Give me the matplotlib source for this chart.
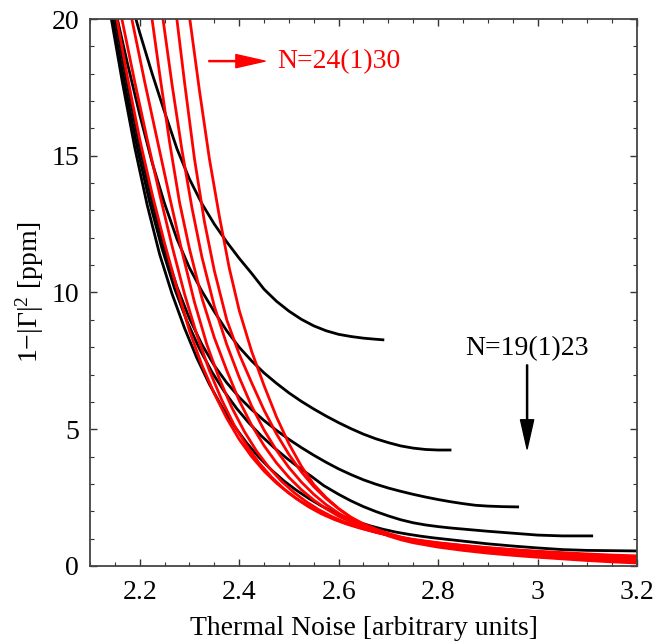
import matplotlib
matplotlib.use('Agg')
import matplotlib.pyplot as plt
from matplotlib.ticker import MultipleLocator

plt.rcParams['font.family'] = ['Liberation Serif', 'DejaVu Serif']
plt.rcParams['mathtext.fontset'] = 'custom'
plt.rcParams['mathtext.rm'] = 'Liberation Serif'
plt.rcParams['mathtext.it'] = 'Liberation Serif:italic'

# black curves, N = 19 ... 23
n19_x = [2.19, 2.20, 2.225, 2.25, 2.275, 2.30, 2.325, 2.35, 2.375, 2.40, 2.425, 2.45, 2.475,
         2.50, 2.525, 2.55, 2.575, 2.60, 2.625, 2.65, 2.675, 2.689]
n19_y = [20.15, 19.5, 18.0, 16.6, 15.25, 14.15, 13.25, 12.5, 11.85, 11.25, 10.70, 10.12, 9.68,
         9.32, 9.02, 8.78, 8.60, 8.47, 8.39, 8.33, 8.29, 8.27]

n20_x = [2.155, 2.175, 2.20, 2.225, 2.25, 2.275, 2.30, 2.325, 2.35, 2.375, 2.40, 2.425, 2.45,
         2.475, 2.50, 2.525, 2.55, 2.575, 2.60, 2.625, 2.65, 2.675, 2.70, 2.725, 2.75, 2.775,
         2.80, 2.824]
n20_y = [20.0, 18.4, 16.5, 14.75, 13.25, 11.95, 10.9, 10.05, 9.30, 8.60, 8.00, 7.50, 7.06,
         6.68, 6.33, 6.02, 5.74, 5.48, 5.24, 5.02, 4.82, 4.65, 4.51, 4.39, 4.31, 4.26,
         4.24, 4.24]

n21_x = [2.15, 2.175, 2.20, 2.225, 2.25, 2.275, 2.30, 2.325, 2.35, 2.375, 2.40, 2.425, 2.45,
         2.475, 2.50, 2.525, 2.55, 2.575, 2.60, 2.625, 2.65, 2.675, 2.70, 2.725, 2.75, 2.775,
         2.80, 2.825, 2.85, 2.875, 2.90, 2.93, 2.96]
n21_y = [20.1, 17.6, 15.3, 13.3, 11.6, 10.2, 9.05, 8.10, 7.33, 6.70, 6.17, 5.72, 5.32,
         4.96, 4.63, 4.33, 4.05, 3.79, 3.55, 3.34, 3.15, 2.99, 2.85, 2.73, 2.62, 2.52,
         2.43, 2.35, 2.28, 2.22, 2.19, 2.17, 2.16]

n22_x = [2.145, 2.17, 2.195, 2.22, 2.245, 2.27, 2.295, 2.32, 2.345, 2.37, 2.395, 2.42, 2.445,
         2.47, 2.495, 2.52, 2.545, 2.57, 2.60, 2.625, 2.65, 2.675, 2.70, 2.725, 2.75, 2.775,
         2.80, 2.825, 2.85, 2.875, 2.90, 2.95, 3.00, 3.05, 3.109]
n22_y = [20.1, 17.6, 15.3, 13.3, 11.6, 10.15, 8.95, 7.95, 7.10, 6.38, 5.76, 5.22, 4.75,
         4.33, 3.95, 3.60, 3.28, 2.94, 2.62, 2.38, 2.17, 1.99, 1.83, 1.69, 1.58, 1.50,
         1.44, 1.39, 1.35, 1.31, 1.27, 1.20, 1.13, 1.10, 1.10]

n23_x = [2.142, 2.165, 2.19, 2.215, 2.24, 2.265, 2.29, 2.315, 2.34, 2.365, 2.39, 2.415, 2.44,
         2.465, 2.49, 2.515, 2.54, 2.565, 2.59, 2.615, 2.64, 2.665, 2.69, 2.715, 2.74, 2.765,
         2.79, 2.82, 2.85, 2.875, 2.90, 2.95, 3.00, 3.05, 3.10, 3.15, 3.20]
n23_y = [20.1, 17.7, 15.3, 13.2, 11.4, 9.95, 8.70, 7.60, 6.65, 5.83, 5.12, 4.50, 3.97,
         3.51, 3.11, 2.77, 2.47, 2.20, 1.97, 1.77, 1.60, 1.46, 1.34, 1.24, 1.16, 1.09,
         1.03, 0.97, 0.91, 0.86, 0.81, 0.73, 0.66, 0.60, 0.57, 0.56, 0.55]

# red curves, N = 24 ... 30
n24_x = [2.153, 2.175, 2.20, 2.225, 2.25, 2.275, 2.30, 2.325, 2.35, 2.375, 2.40, 2.425, 2.45,
         2.475, 2.50, 2.525, 2.55, 2.575, 2.60, 2.625, 2.65, 2.675, 2.70, 2.725, 2.75, 2.80,
         2.85, 2.90, 2.95, 3.00, 3.05, 3.10, 3.15, 3.20]
n24_y = [20.1, 17.9, 15.6, 13.6, 11.8, 10.15, 8.60, 7.35, 6.30, 5.40, 4.63, 4.00, 3.47,
         3.03, 2.66, 2.35, 2.08, 1.85, 1.66, 1.50, 1.36, 1.23, 1.13, 1.04, 0.96, 0.84,
         0.75, 0.67, 0.60, 0.54, 0.49, 0.44, 0.40, 0.37]

n25_x = [2.163, 2.19, 2.215, 2.24, 2.265, 2.29, 2.315, 2.34, 2.365, 2.39, 2.415, 2.44, 2.465,
         2.49, 2.515, 2.54, 2.565, 2.59, 2.615, 2.64, 2.665, 2.69, 2.715, 2.74, 2.775, 2.80,
         2.85, 2.90, 2.95, 3.00, 3.05, 3.10, 3.15, 3.20]
n25_y = [20.1, 17.7, 15.6, 13.6, 11.7, 9.95, 8.45, 7.15, 6.07, 5.15, 4.40, 3.77, 3.25,
         2.82, 2.46, 2.16, 1.91, 1.71, 1.54, 1.40, 1.28, 1.17, 1.08, 1.00, 0.91, 0.85,
         0.75, 0.66, 0.59, 0.52, 0.46, 0.41, 0.37, 0.33]

n26_x = [2.183, 2.21, 2.235, 2.26, 2.285, 2.31, 2.335, 2.36, 2.385, 2.41, 2.435, 2.46, 2.485,
         2.51, 2.535, 2.56, 2.585, 2.61, 2.635, 2.66, 2.685, 2.71, 2.735, 2.76, 2.80, 2.85,
         2.90, 2.95, 3.00, 3.05, 3.10, 3.15, 3.20]
n26_y = [20.1, 17.7, 15.6, 13.5, 11.5, 9.65, 8.10, 6.85, 5.80, 4.93, 4.20, 3.60, 3.10,
         2.69, 2.35, 2.06, 1.82, 1.62, 1.46, 1.32, 1.19, 1.09, 1.00, 0.92, 0.81, 0.71,
         0.62, 0.55, 0.48, 0.42, 0.37, 0.33, 0.29]

n27_x = [2.224, 2.24, 2.26, 2.28, 2.30, 2.325, 2.35, 2.375, 2.40, 2.425, 2.45, 2.475, 2.50,
         2.525, 2.55, 2.575, 2.60, 2.625, 2.65, 2.675, 2.70, 2.725, 2.75, 2.80, 2.85, 2.90,
         2.95, 3.00, 3.05, 3.10, 3.15, 3.20]
n27_y = [20.1, 18.0, 15.5, 13.3, 11.6, 9.80, 8.35, 7.15, 6.05, 5.15, 4.40, 3.77, 3.24,
         2.79, 2.41, 2.09, 1.82, 1.60, 1.42, 1.26, 1.13, 1.02, 0.93, 0.78, 0.67, 0.58,
         0.51, 0.44, 0.38, 0.33, 0.29, 0.26]

n28_x = [2.246, 2.265, 2.285, 2.305, 2.325, 2.35, 2.375, 2.40, 2.425, 2.45, 2.475, 2.50, 2.525,
         2.55, 2.575, 2.60, 2.625, 2.65, 2.675, 2.70, 2.725, 2.75, 2.80, 2.85, 2.90, 2.95,
         3.00, 3.05, 3.10, 3.15, 3.20]
n28_y = [20.1, 17.6, 15.2, 13.1, 11.3, 9.50, 8.10, 6.90, 5.85, 4.97, 4.23, 3.60, 3.07,
         2.62, 2.24, 1.93, 1.67, 1.46, 1.29, 1.15, 1.03, 0.93, 0.77, 0.65, 0.55, 0.47,
         0.40, 0.34, 0.29, 0.25, 0.22]

n29_x = [2.274, 2.29, 2.31, 2.33, 2.35, 2.375, 2.40, 2.425, 2.45, 2.475, 2.50, 2.525, 2.55,
         2.575, 2.60, 2.625, 2.65, 2.675, 2.70, 2.725, 2.75, 2.80, 2.85, 2.90, 2.95, 3.00,
         3.05, 3.10, 3.15, 3.20]
n29_y = [20.1, 17.7, 14.9, 12.6, 10.8, 9.00, 7.75, 6.70, 5.70, 4.83, 4.08, 3.44, 2.90,
         2.46, 2.09, 1.78, 1.54, 1.35, 1.19, 1.06, 0.95, 0.75, 0.61, 0.51, 0.43, 0.36,
         0.30, 0.25, 0.21, 0.18]

n30_x = [2.30, 2.32, 2.34, 2.36, 2.38, 2.40, 2.425, 2.45, 2.475, 2.50, 2.525, 2.55, 2.575,
         2.60, 2.625, 2.65, 2.675, 2.70, 2.725, 2.75, 2.80, 2.85, 2.90, 2.95, 3.00, 3.05,
         3.10, 3.15, 3.20]
n30_y = [20.1, 17.4, 14.9, 12.8, 10.9, 9.35, 7.85, 6.60, 5.45, 4.47, 3.65, 2.98, 2.50,
         2.10, 1.77, 1.50, 1.28, 1.10, 0.96, 0.85, 0.69, 0.57, 0.47, 0.39, 0.32, 0.26,
         0.20, 0.15, 0.11]

black_curves = [(n19_x, n19_y), (n20_x, n20_y), (n21_x, n21_y), (n22_x, n22_y), (n23_x, n23_y)]
red_curves = [(n24_x, n24_y), (n25_x, n25_y), (n26_x, n26_y), (n27_x, n27_y),
              (n28_x, n28_y), (n29_x, n29_y), (n30_x, n30_y)]

fig = plt.figure(figsize=(6.55, 6.42), dpi=100)
ax = fig.add_axes([0.1374, 0.1184, 0.8351, 0.8520])

for xs, ys in black_curves:
  ax.plot(xs, ys, color='black', lw=2.0)

for xs, ys in red_curves:
  ax.plot(xs, ys, color='#ff0000', lw=2.0)

# annotations
ax.annotate('', xy=(2.452, 18.46), xytext=(2.339, 18.46),
            arrowprops=dict(color='#ff0000', width=0.8, headwidth=9.5, headlength=21, shrink=0))
ax.text(2.476, 18.46, 'N=24(1)30', color='#ff0000', fontsize=20, ha='left', va='center')

ax.annotate('', xy=(2.979, 4.28), xytext=(2.979, 7.35),
            arrowprops=dict(color='black', width=0.8, headwidth=9.5, headlength=21, shrink=0))
ax.text(2.979, 7.93, 'N=19(1)23', color='black', fontsize=20, ha='center', va='center')

ax.set_xlim(2.1, 3.2)
ax.set_ylim(0, 20)
ax.xaxis.set_minor_locator(MultipleLocator(0.05))
ax.yaxis.set_major_locator(MultipleLocator(5))
ax.yaxis.set_minor_locator(MultipleLocator(1))
ax.set_xticks([2.2, 2.4, 2.6, 2.8, 3.0, 3.2])
ax.set_xticklabels(['2.2', '2.4', '2.6', '2.8', '3', '3.2'])

ax.tick_params(which='both', direction='in', top=True, right=True, labelsize=20, color='#333333')
ax.tick_params(which='major', length=5, width=1.0)
ax.tick_params(which='minor', length=3, width=0.8)
ax.tick_params(axis='x', which='major', pad=10)
ax.tick_params(axis='y', which='major', pad=8)
for sp in ax.spines.values():
  sp.set_color('#444444')
  sp.set_linewidth(1.3)

ax.set_xlabel('Thermal Noise [arbitrary units]', fontsize=20, labelpad=8)
ax.set_ylabel('1\u2212|\u0393|$^{2}$ [ppm]', fontsize=20, labelpad=4)

fig.savefig('out.png', dpi=100)
